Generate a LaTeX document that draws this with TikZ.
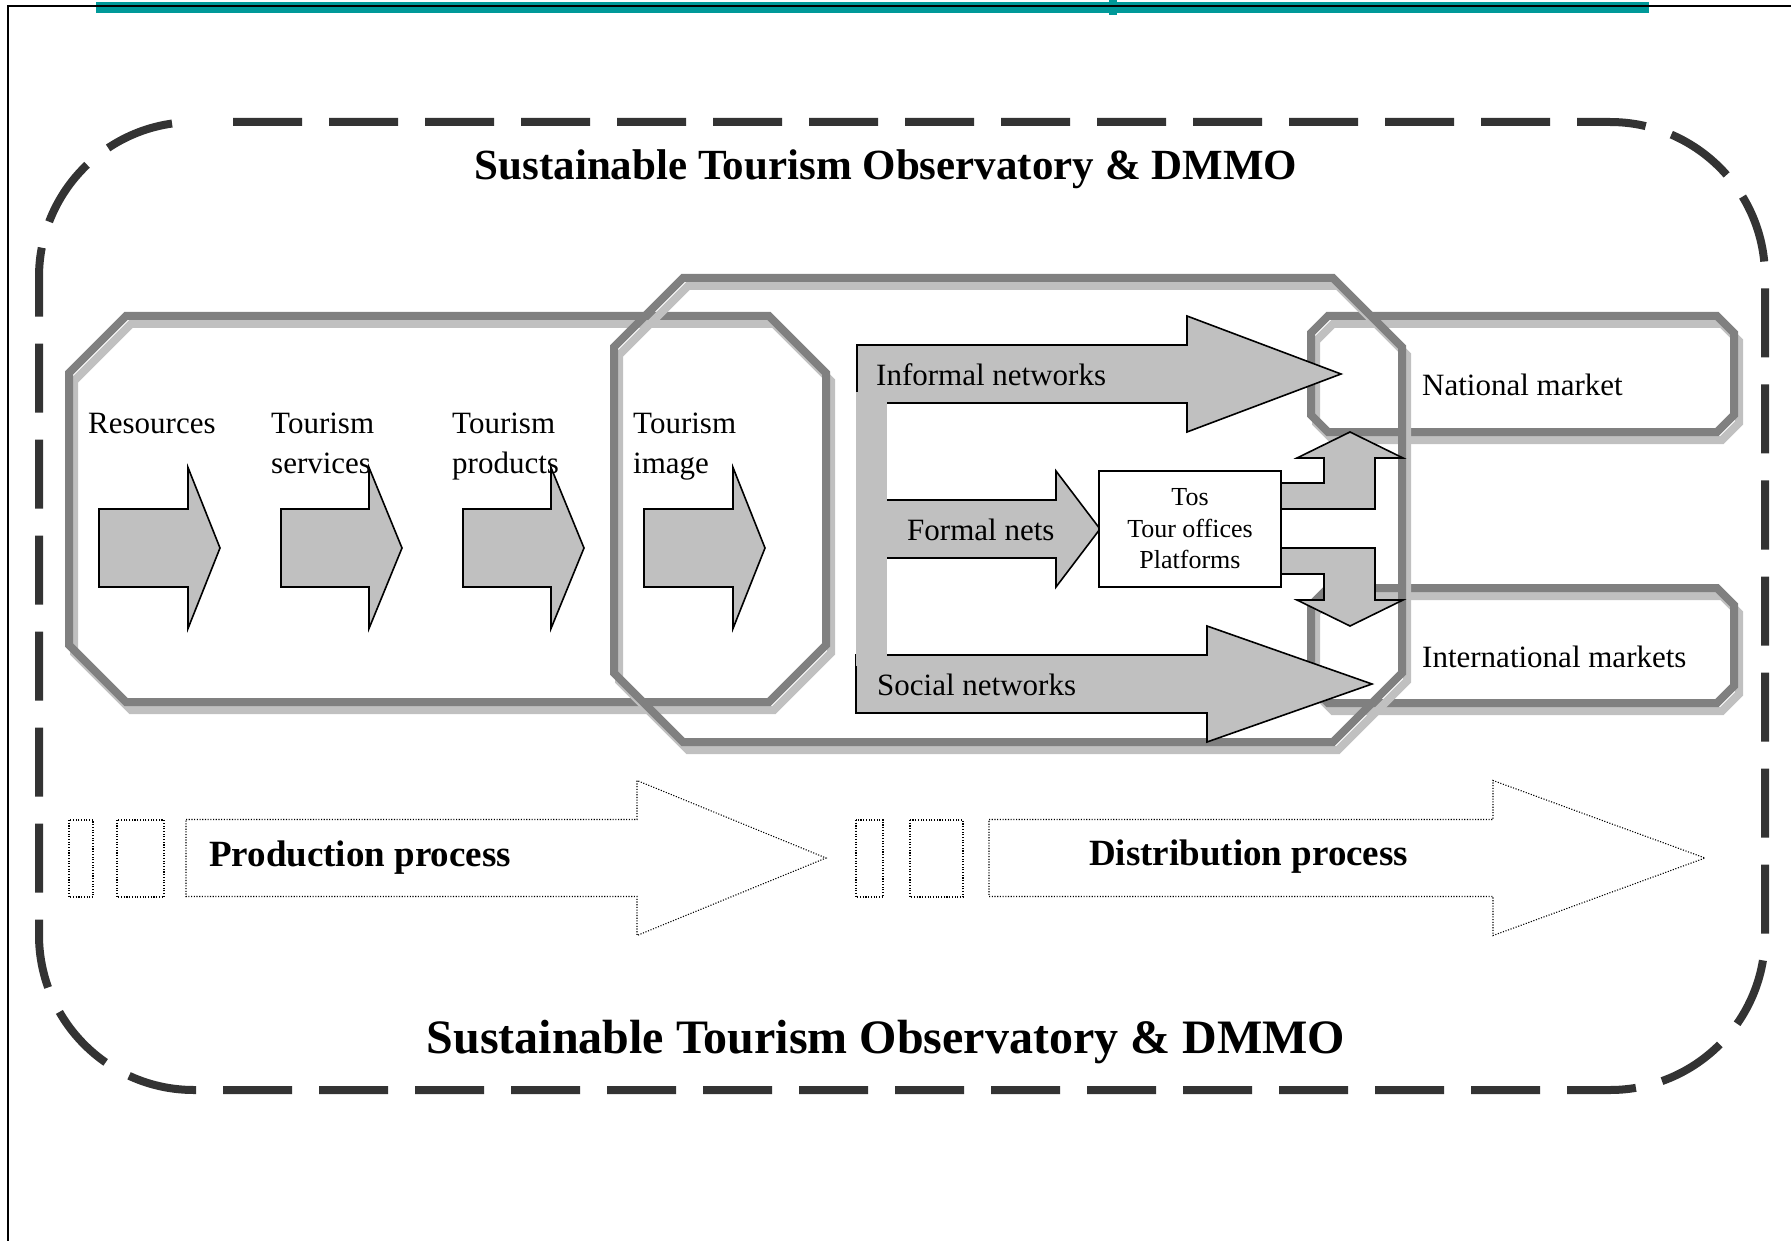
\documentclass[tikz,border=0pt]{standalone}
\usepackage{fontspec}
\setmainfont{Liberation Serif}
\definecolor{dg}{HTML}{808080}
\definecolor{lg}{HTML}{C0C0C0}
\definecolor{fr}{HTML}{333333}
\definecolor{tealbar}{HTML}{009999}
\tikzset{
  shadowline/.style={draw=lg, line width=8pt, line join=miter, shift={(5,8)}},
  mainline/.style={draw=dg, line width=8pt, line join=miter},
  grayarrow/.style={fill=lg, draw=black, line width=1.6pt, line join=miter},
  dotline/.style={draw=black, line width=1.1pt, dash pattern=on 1.1pt off 1.6pt},
  lbl/.style={anchor=base west, inner sep=0pt, font=\fontsize{31}{37}\selectfont},
  plbl/.style={anchor=base west, inner sep=0pt, font=\fontsize{37}{44}\selectfont\bfseries},
}
% chamfered box: left, top, right, bottom, chamfer
\newcommand\chambox[5]{%
  \draw[shadowline] (#1+#5,#2) -- (#3-#5,#2) -- (#3,#2+#5) -- (#3,#4-#5) -- (#3-#5,#4) -- (#1+#5,#4) -- (#1,#4-#5) -- (#1,#2+#5) -- cycle;
  \draw[mainline] (#1+#5,#2) -- (#3-#5,#2) -- (#3,#2+#5) -- (#3,#4-#5) -- (#3-#5,#4) -- (#1+#5,#4) -- (#1,#4-#5) -- (#1,#2+#5) -- cycle;}
% right arrow: [style] x0, x1 (head base), x2 (tip), yc, shaft half, head half
\newcommand\rarrow[7][grayarrow]{%
  \draw[#1] (#2,#5-#6) -- (#3,#5-#6) -- (#3,#5-#7) -- (#4,#5) -- (#3,#5+#7) -- (#3,#5+#6) -- (#2,#5+#6) -- cycle;}
\begin{document}
\begin{tikzpicture}[x=1pt, y=-1pt]
\useasboundingbox (0,0) rectangle (1791,1241);
\fill[white] (0,0) rectangle (1791,1241);

% header bar and page frame
\fill[tealbar] (96,2) rectangle (1649,13);
\fill[tealbar] (1109,0) rectangle (1117,15);
\draw[black, line width=1.8pt] (8,1241) -- (8,6) -- (1791,6);

% dashed outer frame
\draw[fr, line width=8pt, rounded corners=155pt, dash pattern=on 69pt off 27pt] (233,122) -- (1765,122) -- (1765,1090) -- (39,1090) -- (39,122) -- (197,122);

% production octagon
\chambox{69}{316}{826}{702}{57}
% market boxes
\chambox{1311}{316}{1734}{432}{17}
\chambox{1311}{588}{1734}{703}{17}
% distribution octagon
\chambox{614}{278}{1402}{742}{69}

% small process arrows
\rarrow{99}{188}{220}{548}{39}{80.5}
\rarrow{281}{369}{402}{548}{39}{80.5}
\rarrow{463}{551}{584}{548}{39}{80.5}
\rarrow{644}{733}{765}{548}{39}{80.5}

% network arrows
\rarrow{857}{1187}{1341}{374}{29}{58}
\rarrow{856}{1207}{1372}{684}{29}{58}
\rarrow{870}{1056}{1100}{529}{29}{58}
\fill[lg] (856,392) rectangle (887,666);

% bent arrows from Tos box
\draw[grayarrow] (1281,483) -- (1324,483) -- (1324,458) -- (1297,458) -- (1350,432) -- (1403,458) -- (1375,458) -- (1375,509) -- (1281,509) -- cycle;
\draw[grayarrow] (1281,548) -- (1375,548) -- (1375,600) -- (1403,600) -- (1350,626) -- (1297,600) -- (1324,600) -- (1324,574) -- (1281,574) -- cycle;

% Tos box
\node[draw=black, fill=white, line width=1.6pt, minimum width=182pt, minimum height=116pt, inner sep=0pt, align=center, font=\fontsize{26}{31.5}\selectfont] (tos) at (1190,529) {Tos\\Tour offices\\Platforms};

% labels
\node[lbl] (res) at (88,433) {Resources};
\node[lbl] (ts1) at (271,433) {Tourism};
\node[lbl] (ts2) at (271,473) {services};
\node[lbl] (tp1) at (452,433) {Tourism};
\node[lbl] (tp2) at (452,473) {products};
\node[lbl] (ti1) at (633,433) {Tourism};
\node[lbl] (ti2) at (633,473) {image};
\node[lbl] (inf) at (876,385) {Informal networks};
\node[lbl] (frm) at (907,540) {Formal nets};
\node[lbl] (soc) at (877,695) {Social networks};
\node[lbl] (nat) at (1422,395) {National market};
\node[lbl] (intl) at (1422,667) {International markets};

% bottom process arrows
\draw[dotline] (69,820) rectangle (93,897);
\draw[dotline] (117,820) rectangle (164,897);
\rarrow[dotline]{186}{637}{826}{858}{38.5}{77.5}
\draw[dotline] (856,820) rectangle (883,897);
\draw[dotline] (910,820) rectangle (963,897);
\rarrow[dotline]{989}{1493}{1705}{858}{38.5}{77.5}
\node[plbl] (prod) at (209,866) {Production process};
\node[plbl] (dist) at (1089,865) {Distribution process};

% titles
\node[anchor=base, inner sep=0pt, font=\fontsize{43}{50}\selectfont\bfseries] (t1) at (886,180) {Sustainable Tourism Observatory \& DMMO};
\node[anchor=base, inner sep=0pt, font=\fontsize{48}{56}\selectfont\bfseries] (t2) at (886,1053) {Sustainable Tourism Observatory \& DMMO};
\end{tikzpicture}
\end{document}
